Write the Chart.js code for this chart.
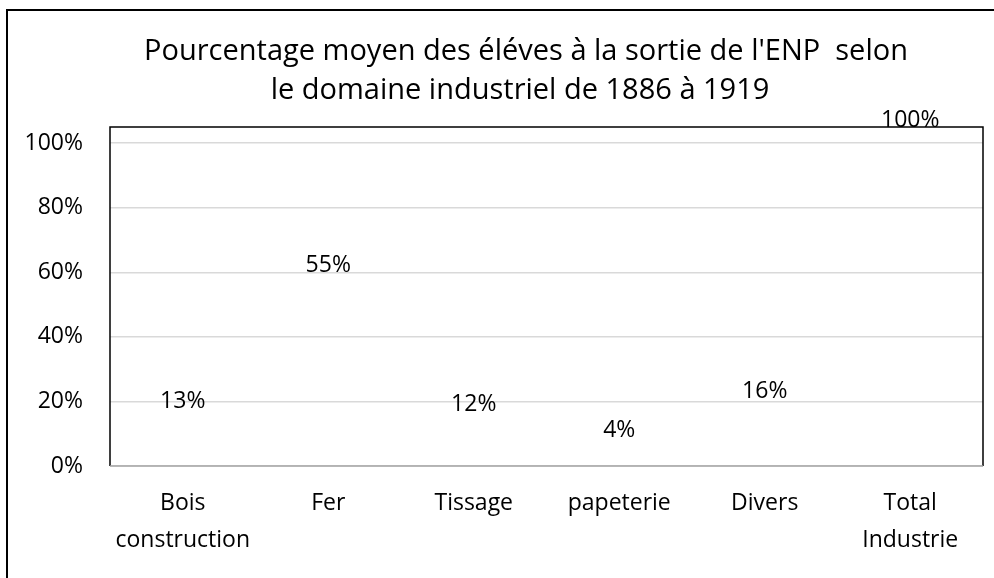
<!DOCTYPE html>
<html>
<head>
<meta charset="utf-8">
<script src="https://cdn.jsdelivr.net/npm/chart.js@4"></script>
<style>
  html, body { margin: 0; padding: 0; background: #fff; overflow: hidden; }
  #wrap { position: relative; width: 994px; height: 578px; }
  #frame { position: absolute; left: 6px; top: 9px; width: 1100px; height: 700px; border: 2px solid #000; box-sizing: border-box; }
  #chart { position: absolute; left: 0; top: 0; }
</style>
</head>
<body>
<div id="wrap">
  <div id="frame"></div>
  <canvas id="chart" width="994" height="578"></canvas>
</div>
<script>
const categories = [["Bois", "construction"], "Fer", "Tissage", "papeterie", "Divers", ["Total", "Industrie"]];
const values = [0.13, 0.55, 0.12, 0.04, 0.16, 1.00];
const yTicks = [0, 0.2, 0.4, 0.6, 0.8, 1.0];
const titleLines = ["Pourcentage moyen des éléves à la sortie de l'ENP  selon", "le domaine industriel de 1886 à 1919"];

const FONT = "'Open Sans', Lato, sans-serif";

// title + value labels + plot border, drawn on the canvas
const extras = {
    id: "extras",
    afterDraw(chart) {
        const ctx = chart.ctx;
        const area = chart.chartArea;
        ctx.save();

        ctx.fillStyle = "#000";
        ctx.textAlign = "center";
        ctx.textBaseline = "middle";
        ctx.font = "29px " + FONT;
        ctx.fillText(titleLines[0], 526, 52);
        ctx.fillText(titleLines[1], 520, 91);

        ctx.font = "23px " + FONT;
        ctx.textBaseline = "alphabetic";
        chart.getDatasetMeta(0).data.forEach((bar, i) => {
            ctx.fillText(Math.round(values[i] * 100) + "%", bar.x, bar.y - 16);
        });

        ctx.strokeStyle = "#000";
        ctx.lineWidth = 1.5;
        ctx.beginPath();
        ctx.moveTo(area.left, area.bottom);
        ctx.lineTo(area.left, area.top);
        ctx.lineTo(area.right, area.top);
        ctx.lineTo(area.right, area.bottom);
        ctx.stroke();
        ctx.strokeStyle = "#a6a6a6";
        ctx.beginPath();
        ctx.moveTo(area.left, area.bottom);
        ctx.lineTo(area.right, area.bottom);
        ctx.stroke();
        ctx.restore();
    }
};

new Chart(document.getElementById("chart").getContext("2d"), {
    type: "bar",
    data: {
        labels: categories,
        datasets: [{
            data: values,
            backgroundColor: "rgba(0,0,0,0)",
            borderWidth: 0
        }]
    },
    options: {
        responsive: false,
        animation: false,
        layout: { padding: { top: 127, right: 11, left: 0, bottom: 0 } },
        plugins: {
            legend: { display: false },
            tooltip: { enabled: false },
            title: { display: false }
        },
        scales: {
            x: {
                grid: { display: false, drawTicks: false },
                border: { display: false },
                ticks: { color: "#000", font: { family: FONT, size: 23, lineHeight: 1.6 }, padding: 19, maxRotation: 0, autoSkip: false },
                afterFit(scale) { scale.height = 112; }
            },
            y: {
                min: 0,
                max: 1.05,
                grid: { color: "#d9d9d9", lineWidth: 1.5, drawTicks: false },
                border: { display: false },
                afterBuildTicks(scale) { scale.ticks = yTicks.map(v => ({ value: v })); },
                ticks: {
                    color: "#000",
                    font: { family: FONT, size: 23 },
                    padding: 27,
                    callback: v => Math.round(v * 100) + "%"
                },
                afterFit(scale) { scale.width = 110; }
            }
        }
    },
    plugins: [extras]
});
</script>
</body>
</html>
